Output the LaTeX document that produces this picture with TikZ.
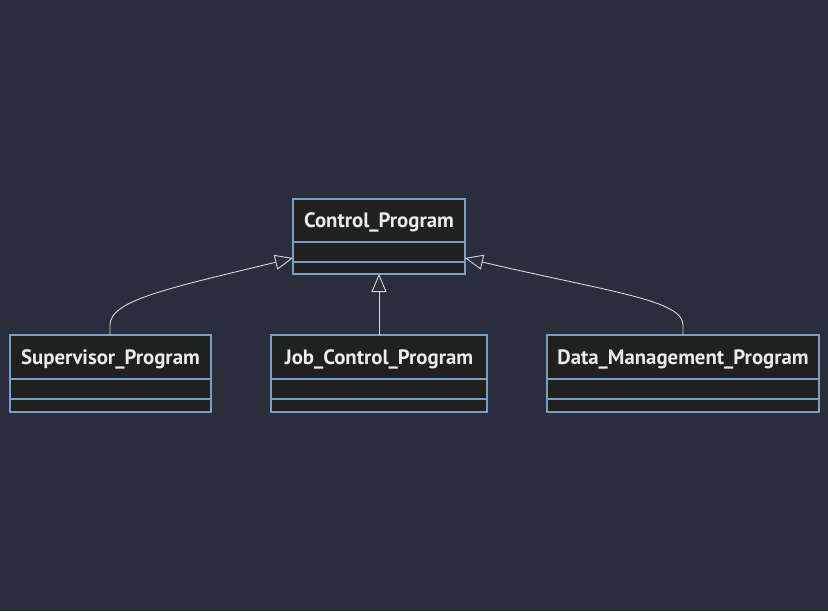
\documentclass[tikz,border=0pt]{standalone}
\usepackage{fontspec}
\setmainfont{PT Sans}
\usetikzlibrary{arrows.meta}
\definecolor{bg}{RGB}{40,46,59}
\definecolor{boxfill}{RGB}{31,32,32}
\definecolor{boxline}{RGB}{126,156,190}
\definecolor{edge}{RGB}{215,215,215}
\definecolor{txt}{RGB}{235,235,235}
\tikzset{
  cls/.style={draw=boxline, fill=boxfill, line width=1.2pt},
  divider/.style={draw=boxline, line width=1.2pt},
  title/.style={text=txt, font=\bfseries\fontsize{20.8}{22}\selectfont, inner sep=0pt},
  inherit/.style={draw=edge, line width=0.9pt, -{Triangle[open, length=18pt, width=15pt, fill=bg]}},
}
\begin{document}
\begin{tikzpicture}[x=1pt,y=-1pt]
\fill[bg] (0,0) rectangle (828,611);
\useasboundingbox (0,0) rectangle (828,611);
% Control_Program
\path[cls] (293,199) rectangle (465,274);
\draw[divider] (293,242) -- (465,242);
\draw[divider] (293,262) -- (465,262);
\node[title] (cp) at (379,222) {Control\_Program};
\coordinate (cpL) at (293,258);
\coordinate (cpR) at (465,258);
\coordinate (cpB) at (379,274);
% Supervisor
\path[cls] (10,335) rectangle (211,412);
\draw[divider] (10,379) -- (211,379);
\draw[divider] (10,399) -- (211,399);
\node[title] (sp) at (110.5,359) {Supervisor\_Program};
\coordinate (spT) at (110,335);
% Job control
\path[cls] (271,335) rectangle (487,412);
\draw[divider] (271,379) -- (487,379);
\draw[divider] (271,399) -- (487,399);
\node[title] (jc) at (379,359) {Job\_Control\_Program};
\coordinate (jcT) at (379,335);
% Data management
\path[cls] (547,335) rectangle (819,412);
\draw[divider] (547,379) -- (819,379);
\draw[divider] (547,399) -- (819,399);
\node[title] (dm) at (683,359) {Data\_Management\_Program};
\coordinate (dmT) at (683,335);
% edges
\draw[inherit] (spT) -- (110,325) .. controls (110,300) and (170,288) .. (cpL);
\draw[inherit] (jcT) -- (cpB);
\draw[inherit] (dmT) -- (683,325) .. controls (683,300) and (610,292) .. (cpR);
\end{tikzpicture}
\end{document}
